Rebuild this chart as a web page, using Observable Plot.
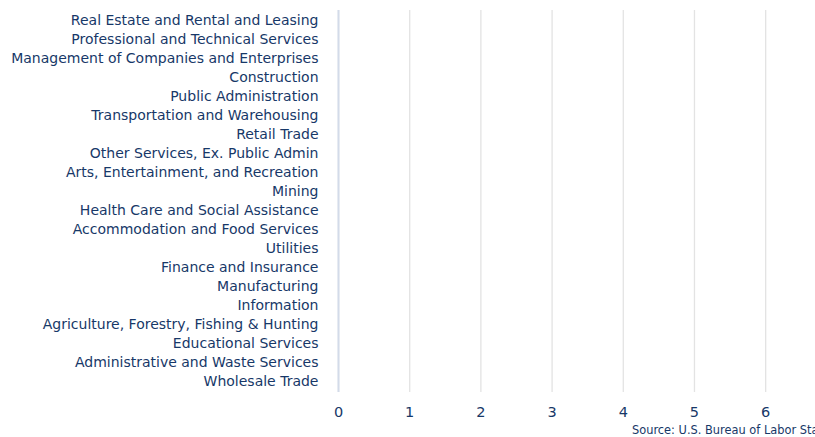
<!DOCTYPE html>
<html>
<head>
<meta charset="utf-8">
<script src="https://cdn.jsdelivr.net/npm/d3@7"></script>
<script src="https://cdn.jsdelivr.net/npm/@observablehq/plot@0.6"></script>
<style>
  html, body { margin: 0; padding: 0; background: #fff; overflow: hidden; }
  #wrap { position: relative; width: 815px; height: 437px; }
  #source { position: absolute; left: 632px; top: 423px; font: 11.4px "DejaVu Sans", sans-serif; color: #173868; white-space: nowrap; }
</style>
</head>
<body>
<div id="wrap"><div id="chart"></div><div id="source">Source: U.S. Bureau of Labor Statistics</div></div>
<script>
const industries = [
  "Real Estate and Rental and Leasing",
  "Professional and Technical Services",
  "Management of Companies and Enterprises",
  "Construction",
  "Public Administration",
  "Transportation and Warehousing",
  "Retail Trade",
  "Other Services, Ex. Public Admin",
  "Arts, Entertainment, and Recreation",
  "Mining",
  "Health Care and Social Assistance",
  "Accommodation and Food Services",
  "Utilities",
  "Finance and Insurance",
  "Manufacturing",
  "Information",
  "Agriculture, Forestry, Fishing & Hunting",
  "Educational Services",
  "Administrative and Waste Services",
  "Wholesale Trade"
];
const values = [0,0,0,0,0,0,0,0,0,0,0,0,0,0,0,0,0,0,0,0];
const xTicks = [0,1,2,3,4,5,6];

const data = industries.map((d, i) => ({industry: d, value: values[i]}));
const textColor = "#173868";

const chart = Plot.plot({
  width: 815,
  height: 437,
  marginLeft: 338,
  marginRight: 0,
  marginTop: 10,
  marginBottom: 45,
  style: {fontFamily: "DejaVu Sans, sans-serif", fontSize: "14px", color: textColor, background: "#fff"},
  x: {domain: [0, 6.7], ticks: xTicks, label: null},
  y: {domain: industries, label: null, padding: 0},
  marks: [
    Plot.gridX(xTicks, {stroke: "#e3e3e3", strokeOpacity: 1, strokeWidth: 1.3}),
    Plot.axisX({ticks: xTicks, tickFormat: "d", tickSize: 0, tickPadding: 14, fontSize: 14.5, label: null}),
    Plot.axisY({tickSize: 0, tickPadding: 20, fontSize: 14, label: null}),
    Plot.barX(data, {x: "value", y: "industry", fill: textColor}),
    Plot.ruleX([0], {stroke: "#d3dbe9", strokeWidth: 2})
  ]
});
document.getElementById("chart").appendChild(chart);
</script>
</body>
</html>
